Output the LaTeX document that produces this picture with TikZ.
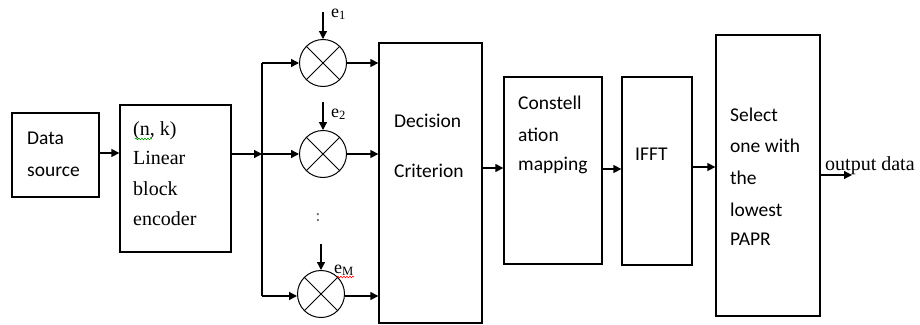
\documentclass[tikz,border=0pt]{standalone}
\usepackage{fontspec}
\setmainfont{Liberation Serif}
\newfontfamily\calfont{Carlito}
\usetikzlibrary{arrows.meta,decorations.pathmorphing}
\tikzset{
  box/.style={draw,line width=1.3pt,rectangle,inner sep=0pt},
  mult/.style={draw,line width=1pt,circle,minimum size=47pt,inner sep=0pt,
    path picture={\draw[line width=0.9pt] (path picture bounding box.south west) -- (path picture bounding box.north east)
      (path picture bounding box.north west) -- (path picture bounding box.south east);}},
  arr/.style={line width=1.3pt,-{Triangle[length=8pt,width=8pt]}},
  ln/.style={line width=1.3pt},
  ctext/.style={anchor=base west,inner sep=0pt,font=\calfont\fontsize{19.5}{22}\selectfont},
  stext/.style={anchor=base west,inner sep=0pt,font=\fontsize{20}{22}\selectfont},
  etext/.style={anchor=base west,inner sep=0pt,font=\fontsize{18}{20}\selectfont},
  squig/.style={decorate,decoration={snake,amplitude=0.8pt,segment length=3pt},line width=0.6pt}
}
\begin{document}
\begin{tikzpicture}[x=1pt,y=-1pt]
\useasboundingbox (0,0) rectangle (920,324);
% boxes
\node[box,minimum width=87pt,minimum height=84pt] (ds) at (55.5,155) {};
\node[box,minimum width=111pt,minimum height=147pt] (enc) at (175.5,178.5) {};
\node[box,minimum width=103pt,minimum height=280pt] (dec) at (430.5,183) {};
\node[box,minimum width=98pt,minimum height=187pt] (con) at (553,170.5) {};
\node[box,minimum width=70pt,minimum height=188pt] (ifft) at (657,171) {};
\node[box,minimum width=104pt,minimum height=281pt] (sel) at (768,175.5) {};
% multipliers
\node[mult] (m1) at (323,63) {};
\node[mult] (m2) at (323,154) {};
\node[mult] (m3) at (321,294) {};
% texts
\node[ctext] (t1) at (27,144) {Data};
\node[ctext] (t2) at (27,176) {source};
\node[stext] (t3) at (133,135) {(n, k)};
\node[stext] (t4) at (133,164) {Linear};
\node[stext] (t5) at (133,195) {block};
\node[stext] (t6) at (133,225) {encoder};
\node[ctext] (t7) at (394,127) {Decision};
\node[ctext] (t8) at (394,177) {Criterion};
\node[ctext] (t9) at (518,109) {Constell};
\node[ctext] (t10) at (518,141) {ation};
\node[ctext] (t11) at (518,170) {mapping};
\node[ctext] (t12) at (635,160) {IFFT};
\node[ctext] (t13) at (730,121) {Select};
\node[ctext] (t14) at (730,152) {one with};
\node[ctext] (t15) at (730,184) {the};
\node[ctext] (t16) at (730,216) {lowest};
\node[ctext] (t17) at (730,245) {PAPR};
\node[stext] (t18) at (825,170) {output data};
\node[etext] (e1) at (331,17) {e\textsubscript{1}};
\node[etext] (e2) at (331,117) {e\textsubscript{2}};
\node[etext] (e3) at (334,273) {e\textsubscript{M}};
\node[anchor=base,inner sep=0pt,font=\calfont\fontsize{18}{20}\selectfont,text=gray!80!black] (dots) at (318,221) {:};
% spell-check squiggles
\draw[squig,green!60!black] (135,139) -- (152,139);
\draw[squig,red] (337,277) -- (354,277);
% coordinates
\coordinate (b1) at (262,63);
\coordinate (b2) at (262,154);
\coordinate (b3) at (262,296);
\coordinate (e1t) at (323,12);
\coordinate (e2t) at (323,102);
\coordinate (e3t) at (321,244);
\coordinate (out) at (852,175);
% connectors
\draw[arr] (ds.east |- 0,153) -- (enc.west |- 0,153);
\draw[arr] (enc.east |- b2) -- (b2);
\draw[ln] (b1) -- (b3);
\draw[arr] (b1) -- (m1.west);
\draw[arr] (b2) -- (m2.west);
\draw[arr] (b3) -- (m3.west |- b3);
\draw[arr] (m1.east) -- (dec.west |- m1.east);
\draw[arr] (m2.east) -- (dec.west |- m2.east);
\draw[arr] (m3.east |- b3) -- (dec.west |- b3);
\draw[arr] (e1t) -- (m1.north);
\draw[arr] (e2t) -- (m2.north);
\draw[arr] (e3t) -- (m3.north);
\draw[arr] (dec.east |- 0,168) -- (con.west |- 0,168);
\draw[arr] (con.east |- 0,169) -- (ifft.west |- 0,169);
\draw[arr] (ifft.east |- 0,167) -- (sel.west |- 0,167);
\draw[arr] (sel.east |- out) -- (out);
\end{tikzpicture}
\end{document}
